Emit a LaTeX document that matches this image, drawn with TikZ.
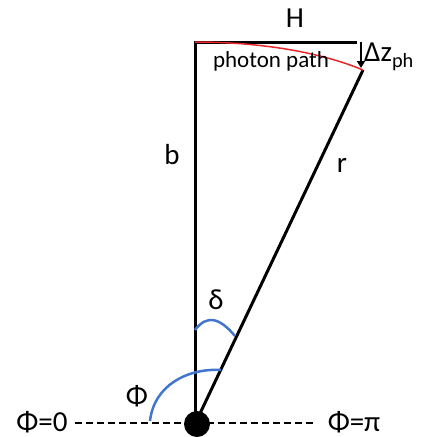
\documentclass[tikz,border=0pt]{standalone}
\usepackage{fontspec}
\setmainfont{Carlito}
\usepackage{tikz}
\usetikzlibrary{arrows.meta,positioning,calc}
\definecolor{arcblue}{RGB}{66,118,206}
\definecolor{pathred}{RGB}{232,40,40}

\begin{document}
\begin{tikzpicture}[x=1pt, y=-1pt,
    leg/.style={black, line width=3pt},
    lbl/.style={font=\fontsize{29}{33}\selectfont, inner sep=0pt},
    small lbl/.style={font=\fontsize{23}{27}\selectfont, inner sep=0pt}]
    \useasboundingbox (0,0) rectangle (422,437);

    % Points of the triangle
    \coordinate (O) at (195,424);
    \coordinate (B) at (195,42);
    \coordinate (Hend) at (357,42);
    \coordinate (Ztop) at (361,42);
    \coordinate (Zbot) at (361,68);
    \coordinate (P) at (363,70);

    % Baseline Phi=0 ... Phi=pi
    \coordinate (L) at (75,423);
    \coordinate (R) at (315,423);
    \draw[black, line width=2.6pt, dash pattern=on 7pt off 4pt] (L) -- (R);

    % Sides b, H and r
    \draw[leg] (O) -- (B) -- (Hend);
    \draw[leg] (O) -- (P);

    % Photon path (red)
    \draw[pathred, line width=1.5pt] (B) .. controls (260,42) and (320,52) .. (P);

    % Height difference
    \draw[black, line width=2.2pt, -{Triangle[length=7pt,width=8pt]}] (Ztop) -- (Zbot);

    % Angles
    \draw[arcblue, line width=2.5pt] (195,330) .. controls (207,314) and (220,318) .. (235,336);
    \draw[arcblue, line width=2.5pt] (150,421) .. controls (154,385) and (188,368) .. (221,370);

    % Observer
    \fill[black] (197,424) circle (13);

    % Labels
    \node[lbl] (Hlab) at (295,18) {H};
    \node[lbl, anchor=west] (Zlab) at (364,57) {Δz\textsubscript{ph}};
    \node[small lbl, anchor=base] (plab) at (271,67) {photon path};
    \node[lbl] (blab) at (172,155) {b};
    \node[lbl] (rlab) at (342,165) {r};
    \node[lbl] (dlab) at (216,300) {δ};
    \node[lbl] (philab) at (137,396) {Φ};
    \node[lbl, anchor=base] (phi0) at (42,431) {Φ=0};
    \node[lbl, anchor=base] (phipi) at (354,431) {Φ=π};
\end{tikzpicture}
\end{document}
